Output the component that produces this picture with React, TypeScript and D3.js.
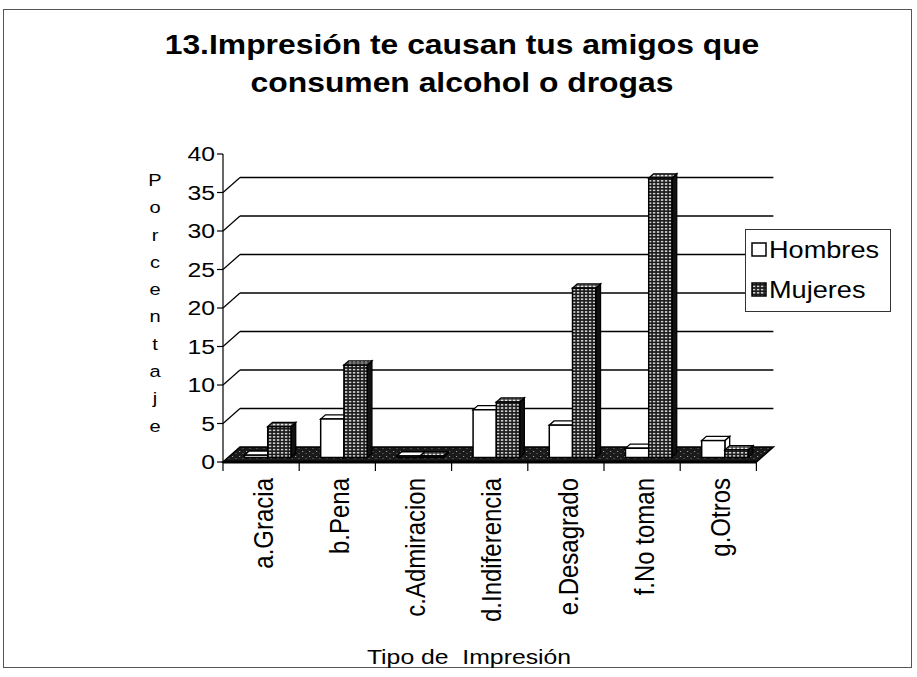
import React from 'react';
import * as d3 from 'd3';

const categories = ['a.Gracia', 'b.Pena', 'c.Admiracion', 'd.Indiferencia', 'e.Desagrado', 'f.No toman', 'g.Otros'];
const hombres = [0.3, 5, 0.2, 6.2, 4.2, 1.2, 2.2];
const mujeres = [4, 12, 0.2, 7.2, 22, 36.3, 1];
const seriesNames = ['Hombres', 'Mujeres'];
const yTicks = [0, 5, 10, 15, 20, 25, 30, 35, 40];
const gridTicks = [5, 10, 15, 20, 25, 30, 35];
const titleLines = ['13.Impresión te causan tus amigos que', 'consumen alcohol o drogas'];
const yTitle = 'Porcentaje';
const xTitle = 'Tipo de  Impresión';

const W = 917;
const H = 677;
const FONT = '"Liberation Sans", Arial, Helvetica, sans-serif';
const SX = 1.18; // horizontal stretch of the scanned lettering

export default function App() {
  const x0 = 223;
  const x1 = 756.4;
  const y0 = 462;
  const yTop = 154;
  const DX = 17;
  const DY = -15;
  const f1 = 0.3;
  const f2 = 0.58;

  const x = d3.scaleBand<string>().domain(categories).range([x0, x1]);
  const y = d3.scaleLinear().domain([0, 40]).range([y0, yTop]);
  const catW = x.bandwidth();
  const bw = catW * 0.305;
  const off = catW * 0.215;

  const sx = DX * f1, sy = DY * f1;
  const ddx = DX * (f2 - f1), ddy = DY * (f2 - f1);

  const pts = (p: [number, number][]) => p.map((q) => q.join(',')).join(' ');

  const bars: JSX.Element[] = [];
  categories.forEach((c, i) => {
    [hombres[i], mujeres[i]].forEach((v, s) => {
      const xl = (x(c) as number) + off + s * bw + sx;
      const xr = xl + bw;
      const yb = y(0) + sy;
      const yt = y(v) + sy;
      const isM = s === 1;
      bars.push(
        <g key={c + s}>
          <polygon
            points={pts([[xr, yt], [xr + ddx, yt + ddy], [xr + ddx, yb + ddy], [xr, yb]])}
            fill={isM ? '#111' : '#fff'}
            stroke="#000"
            strokeWidth={1.3}
          />
          <polygon
            points={pts([[xl, yt], [xr, yt], [xr + ddx, yt + ddy], [xl + ddx, yt + ddy]])}
            fill={isM ? 'url(#mujTop)' : '#fff'}
            stroke="#000"
            strokeWidth={1.3}
          />
          <rect
            x={xl}
            y={yt}
            width={bw}
            height={Math.max(0, yb - yt)}
            fill={isM ? 'url(#mujFront)' : '#fff'}
            stroke="#000"
            strokeWidth={1.5}
          />
        </g>
      );
    });
  });

  const sText = (
    key: string | number,
    tx: number,
    ty: number,
    content: string,
    size: number,
    anchor: string,
    extra: any = {}
  ) => (
    <text
      key={key}
      transform={`translate(${tx},${ty}) scale(${SX},1)`}
      textAnchor={anchor}
      fontSize={size}
      fill="#000"
      {...extra}
    >
      {content}
    </text>
  );

  return (
    <svg
      width={W}
      height={H}
      viewBox={`0 0 ${W} ${H}`}
      style={{ position: 'absolute', left: 0, top: 0, background: '#fff' }}
      fontFamily={FONT}
    >
      <defs>
        <pattern id="mujFront" width="4" height="3.2" patternUnits="userSpaceOnUse">
          <rect width="4" height="3.2" fill="#1c1c1c" />
          <rect x="0.9" y="0.8" width="2.4" height="1.6" fill="#cfcfcf" />
        </pattern>
        <pattern id="mujTop" width="4" height="3" patternUnits="userSpaceOnUse">
          <rect width="4" height="3" fill="#444" />
          <rect x="0.8" y="0.7" width="2.6" height="1.6" fill="#e6e6e6" />
        </pattern>
        <pattern id="floorPat" width="7" height="5" patternUnits="userSpaceOnUse">
          <rect width="7" height="5" fill="#1a1a1a" />
          <rect x="1" y="1" width="1.2" height="1" fill="#9a9a9a" />
          <rect x="4.5" y="3" width="1" height="1" fill="#777" />
        </pattern>
      </defs>

      <rect x={3.5} y={9.5} width={908} height={658} fill="#fff" stroke="#555" strokeWidth={1} />

      {titleLines.map((t, i) => sText('t' + i, 462, 54 + i * 38, t, 27, 'middle', { fontWeight: 'bold' }))}

      {gridTicks.map((v) => (
        <g key={v}>
          <line x1={x0} y1={y(v)} x2={x0 + DX} y2={y(v) + DY} stroke="#000" strokeWidth={1.2} />
          <line x1={x0 + DX} y1={y(v) + DY} x2={x1 + DX} y2={y(v) + DY} stroke="#000" strokeWidth={1.4} />
        </g>
      ))}

      <polygon
        points={pts([[x0, y0], [x1, y0], [x1 + DX, y0 + DY], [x0 + DX, y0 + DY]])}
        fill="url(#floorPat)"
        stroke="#000"
        strokeWidth={1.5}
      />
      <line x1={x0} y1={y0} x2={x1} y2={y0} stroke="#000" strokeWidth={3} />

      {bars}

      <line x1={x0} y1={y(40)} x2={x0} y2={y0} stroke="#000" strokeWidth={1.2} />
      {yTicks.map((v) => (
        <g key={v}>
          <line x1={x0 - 6} y1={y(v)} x2={x0} y2={y(v)} stroke="#000" strokeWidth={1.2} />
          {sText('y' + v, x0 - 8, y(v), String(v), 21, 'end', { dominantBaseline: 'central' })}
        </g>
      ))}

      {categories.concat(['']).map((c, i) => {
        const xx = x0 + i * catW;
        return <line key={i} x1={xx} y1={y0} x2={xx} y2={y0 + 9} stroke="#000" strokeWidth={1.2} />;
      })}
      {categories.map((c) => {
        const cx = (x(c) as number) + catW / 2 + 2;
        return (
          <text
            key={c}
            transform={`translate(${cx},478) rotate(-90) scale(1,${SX})`}
            textAnchor="end"
            dominantBaseline="central"
            fontSize={24}
            fill="#000"
          >
            {c}
          </text>
        );
      })}

      {yTitle.split('').map((ch, i) =>
        sText('p' + i, 155, 180 + i * 27.3, ch, 17, 'middle', { dominantBaseline: 'central' })
      )}

      {sText('xt', 469, 664, xTitle, 21, 'middle', { style: { whiteSpace: 'pre' } })}

      <rect x={745.5} y={229.5} width={145} height={82} fill="#fff" stroke="#333" strokeWidth={1} />
      {seriesNames.map((n, i) => (
        <g key={n}>
          <rect
            x={752}
            y={243 + i * 40}
            width={14}
            height={13}
            fill={i === 0 ? '#fff' : 'url(#mujFront)'}
            stroke="#000"
            strokeWidth={1.5}
          />
          {sText('l' + i, 769, 250 + i * 40, n, 23, 'start', { dominantBaseline: 'central' })}
        </g>
      ))}
    </svg>
  );
}
